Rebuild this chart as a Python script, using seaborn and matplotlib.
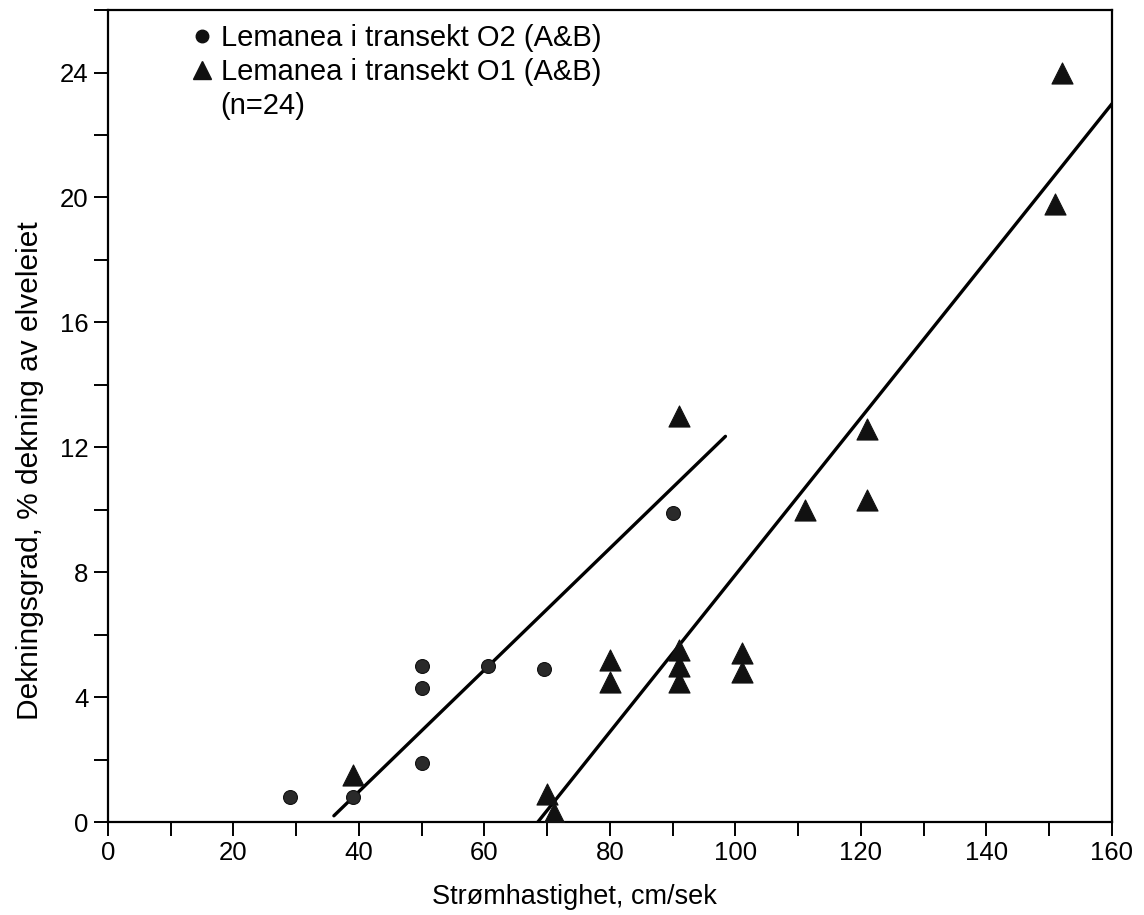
import numpy as np
import pandas as pd
import matplotlib
matplotlib.use("Agg")
import matplotlib.pyplot as plt
from matplotlib.ticker import MultipleLocator
from matplotlib.lines import Line2D
import seaborn as sns

# Lemanea coverage vs. current velocity, transect O2 (circles)
o2_speed = [29, 39, 50, 50, 50, 60.5, 69.5, 90]
o2_cover = [0.8, 0.8, 5.0, 4.3, 1.9, 5.0, 4.9, 9.9]

# Lemanea coverage vs. current velocity, transect O1 (triangles)
o1_speed = [39, 70, 71, 80, 80, 91, 91, 91, 91, 101, 101, 111, 121, 121, 151, 152]
o1_cover = [1.5, 0.9, 0.3, 5.2, 4.5, 13.0, 5.5, 5.0, 4.5, 5.4, 4.8, 10.0, 12.6, 10.3, 19.8, 24.0]

# Fitted trend lines (end points)
fit_o2_x = [36.0, 98.4]
fit_o2_y = [0.2, 12.35]
fit_o1_x = [68.5, 160.0]
fit_o1_y = [0.0, 23.0]

label_o2 = "Lemanea i transekt O2 (A&B)"
label_o1 = "Lemanea i transekt O1 (A&B)"
label_n = "(n=24)"
x_label = "Strømhastighet, cm/sek"
y_label = "Dekningsgrad, % dekning av elveleiet"

sns.set_theme(style="ticks")
plt.rcParams["font.family"] = ["Liberation Sans", "DejaVu Sans"]
plt.rcParams["text.color"] = "black"
plt.rcParams["axes.labelcolor"] = "black"

fig = plt.figure(figsize=(11.44, 9.15), dpi=100)
ax = fig.add_axes([0.0944, 0.1016, 0.8776, 0.8874])

df_o2 = pd.DataFrame({"x": o2_speed, "y": o2_cover})
df_o1 = pd.DataFrame({"x": o1_speed, "y": o1_cover})

sns.lineplot(x=fit_o2_x, y=fit_o2_y, ax=ax, color="black", lw=2.4, solid_capstyle="round")
sns.lineplot(x=fit_o1_x, y=fit_o1_y, ax=ax, color="black", lw=2.4, solid_capstyle="round")

sns.scatterplot(data=df_o2, x="x", y="y", ax=ax, marker="o", s=100,
                color="#2a2a2a", edgecolor="#111111", linewidth=0.8, zorder=3)
sns.scatterplot(data=df_o1, x="x", y="y", ax=ax, marker="^", s=230,
                color="#111111", edgecolor="#111111", linewidth=0.8, zorder=3)

ax.set_xlim(0, 160)
ax.set_ylim(0, 26)
ax.xaxis.set_major_locator(MultipleLocator(20))
ax.xaxis.set_minor_locator(MultipleLocator(10))
ax.yaxis.set_major_locator(MultipleLocator(4))
ax.yaxis.set_minor_locator(MultipleLocator(2))
ax.set_yticks([0, 4, 8, 12, 16, 20, 24])

ax.tick_params(axis="both", which="both", direction="out", length=10, width=1.4,
               color="black", labelsize=18.5, labelcolor="black", pad=4)
for sp in ax.spines.values():
    sp.set_linewidth(1.6)
    sp.set_color("black")

ax.set_xlabel(x_label, fontsize=19.5, color="black")
ax.set_ylabel(y_label, fontsize=21.5, color="black")
ax.xaxis.set_label_coords(0.465, -0.076)
ax.yaxis.set_label_coords(-0.064, 0.433)

handles = [
    Line2D([], [], marker="o", color="#111111", linestyle="none", markersize=9),
    Line2D([], [], marker="^", color="#111111", linestyle="none", markersize=13),
    Line2D([], [], linestyle="none"),
]
leg = ax.legend(handles, [label_o2, label_o1, label_n], loc="upper left",
                bbox_to_anchor=(0.060, 1.006), frameon=False, fontsize=21,
                handletextpad=0.15, handlelength=1.0, labelspacing=0.2,
                borderaxespad=0.25, labelcolor="black")

fig.savefig("out.png", dpi=100, facecolor="white")
